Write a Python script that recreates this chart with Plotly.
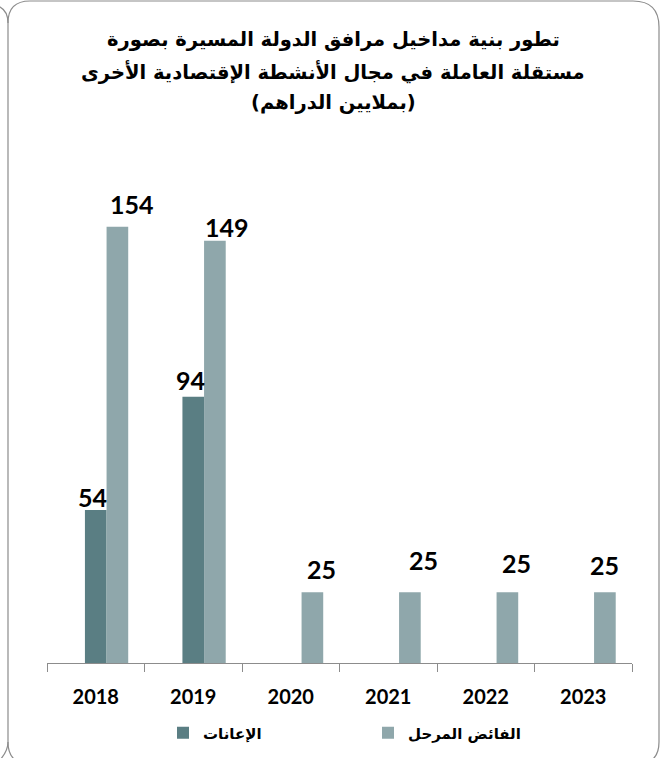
import plotly.graph_objects as go

# Data (millions of dirhams)
years = ["2018", "2019", "2020", "2021", "2022", "2023"]
subsidies = [54, 94, None, None, None, None]          # الإعانات
carried_surplus = [154, 149, 25, 25, 25, 25]          # الفائض المرحل

series_names = ["الإعانات", "الفائض المرحل"]
title_lines = [
    "تطور بنية مداخيل مرافق الدولة المسيرة بصورة",
    "مستقلة العاملة في مجال الأنشطة الإقتصادية الأخرى",
    "(بملايين الدراهم)",
]

# Value-label nudges in pixels (dx from bar centre, dy above bar top)
subsidies_label_dx = [-3, -3, 0, 0, 0, 0]
subsidies_label_dy = [13, 17, 0, 0, 0, 0]
surplus_label_dx = [15, 12, 9, 14, 9, 0]
surplus_label_dy = [23, 14, 23, 32, 29, 27]

W, H = 665, 758
ML, MR, MT, MB = 47, 33, 153, 95
PW, PH = W - ML - MR, H - MT - MB

DARK = "#5a7e83"
LIGHT = "#8fa7ab"
FRAME = "#8c8c8c"
NUM_FONT = "Lato, Carlito, Calibri, sans-serif"
AR_FONT = "DejaVu Sans, Arial, sans-serif"

BAR_W = 0.222
BAR_W_PX = BAR_W * PW / len(years)
label_font = dict(family=NUM_FONT, size=25, color="#000000", weight="bold")


def px_to_paper(px, py):
    return (px - ML) / PW, (H - MB - py) / PH


def P(x, y):
    xp, yp = px_to_paper(x, y)
    return f"{xp:.5f},{yp:.5f}"


# Subsidy bars sit centred on the category; surplus bars right beside them
fig = go.Figure()
fig.add_trace(go.Bar(
    x=years, y=subsidies, name=series_names[0], legend="legend",
    marker=dict(color=DARK, line=dict(width=0)),
    width=BAR_W, offset=-BAR_W / 2,
))
fig.add_trace(go.Bar(
    x=years, y=carried_surplus, name=series_names[1], legend="legend2",
    marker=dict(color=LIGHT, line=dict(width=0)),
    width=BAR_W, offset=BAR_W / 2,
))

# Value labels above the bars (x given as the category's serial index)
for values, dxs, dys, centre in [
    (subsidies, subsidies_label_dx, subsidies_label_dy, 0.0),
    (carried_surplus, surplus_label_dx, surplus_label_dy, BAR_W_PX),
]:
    for i, (v, dx, dy) in enumerate(zip(values, dxs, dys)):
        if v is None:
            continue
        fig.add_annotation(
            x=i, y=v, xref="x", yref="y", text=str(v), showarrow=False,
            xanchor="center", yanchor="middle",
            xshift=centre + dx, yshift=dy, font=label_font,
        )

# Rounded frame around the chart
left, right, top, bottom, r = 8, 659, 1, 764, 22
path = (
    f"M {P(left + r, top)} L {P(right - r - 4, top)} "
    f"Q {P(right, top)} {P(right, top + r + 4)} "
    f"L {P(right, bottom - r)} Q {P(right, bottom)} {P(right - r, bottom)} "
    f"L {P(left + r, bottom)} Q {P(left, bottom)} {P(left, bottom - r)} "
    f"L {P(left, top + r)} Q {P(left, top)} {P(left + r, top)} Z"
)
fig.add_shape(type="path", path=path, xref="paper", yref="paper",
              line=dict(color=FRAME, width=1.2), layer="below")
# edges of the neighbouring frame that meet this one on the left
for a, b, c in [((8, 23), (8, 10), (-2, 6)), ((8, 742), (8, 752), (-2, 762))]:
    fig.add_shape(type="path", path=f"M {P(*a)} Q {P(*b)} {P(*c)}",
                  xref="paper", yref="paper",
                  line=dict(color=FRAME, width=1.2), layer="below")

# Title, one line per annotation
for line, py in zip(title_lines, [40, 72, 103]):
    xp, yp = px_to_paper(333, py)
    fig.add_annotation(
        text=line, x=xp, y=yp, xref="paper", yref="paper",
        xanchor="center", yanchor="middle", showarrow=False,
        font=dict(family=AR_FONT, size=19.5, color="#000000", weight="bold"),
    )

legend_common = dict(
    orientation="h", xanchor="left", yanchor="middle",
    font=dict(family=AR_FONT, size=15, color="#000000", weight="bold"),
    bgcolor="rgba(0,0,0,0)", itemwidth=30,
)
lx1, ly = px_to_paper(163, 733)
lx2, _ = px_to_paper(368, 733)

fig.update_layout(
    width=W, height=H,
    margin=dict(l=ML, r=MR, t=MT, b=MB, autoexpand=False),
    paper_bgcolor="#ffffff", plot_bgcolor="#ffffff",
    barmode="overlay",
    showlegend=True,
    legend=dict(x=lx1, y=ly, **legend_common),
    legend2=dict(x=lx2, y=ly, **legend_common),
    xaxis=dict(
        type="category", showline=True, linecolor=FRAME, linewidth=1.2,
        ticks="outside", tickson="boundaries", ticklen=8, tickcolor=FRAME,
        tickwidth=1.2, showgrid=False, zeroline=False,
        tickfont=dict(family=NUM_FONT, size=20, color="#000000", weight="bold"),
        ticklabelstandoff=16,
        range=[-0.5, 5.5],
    ),
    yaxis=dict(
        range=[0, 180], visible=False, showgrid=False, zeroline=False,
    ),
)

fig.write_html("out.html")
